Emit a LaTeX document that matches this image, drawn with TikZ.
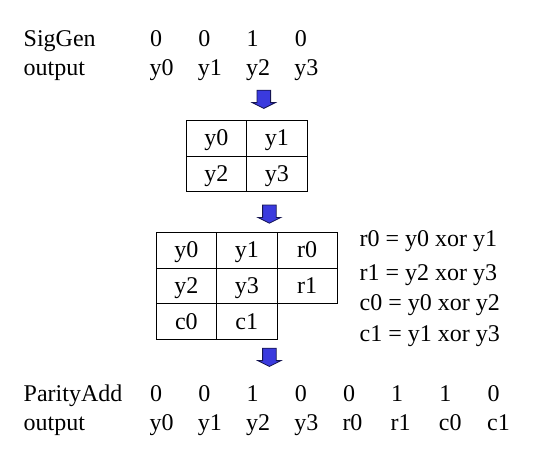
\documentclass[tikz,border=0pt]{standalone}
\usepackage{fontspec}
\setmainfont{Liberation Serif}
\begin{document}
\begin{tikzpicture}[x=1pt,y=-1pt,
  txt/.style={anchor=base west, inner sep=0pt, font=\fontsize{24}{28.8}\selectfont},
  cell/.style={draw, line width=0.9pt, minimum width=60.4pt, minimum height=35.6pt, inner sep=0pt,
    text height=16.2pt, text depth=1.2pt, font=\fontsize{24}{28.8}\selectfont},
  arrowfill/.style={fill={rgb,255:red,58;green,58;blue,222}, draw={rgb,255:red,20;green,20;blue,80}, line width=0.8pt},
  bigarrow/.pic={\path[arrowfill] (-6.8,0) -- (6.8,0) -- (6.8,12.4) -- (11.6,12.4) -- (0,18.2) -- (-11.6,12.4) -- (-6.8,12.4) -- cycle;}
]
\useasboundingbox (0,0) rectangle (540,450);

% top rows
\node[txt] (sig) at (23.5,46) {SigGen};
\node[txt] (sigout) at (23.5,75) {output};
\foreach \v [count=\i from 0] in {0,0,1,0} {
  \node[txt] (t\i) at ({150+48.2*\i},46) {\v};
}
\foreach \v [count=\i from 0] in {y0,y1,y2,y3} {
  \node[txt] (ty\i) at ({149.5+48.2*\i},75) {\v};
}

% arrow 1
\coordinate (a1) at (263.8,90.2);
\pic at (a1) {bigarrow};

% table 1
\node[cell] (p00) at (216.35,138.4) {y0};
\node[cell] (p01) at (276.75,138.4) {y1};
\node[cell] (p10) at (216.35,174.0) {y2};
\node[cell] (p11) at (276.75,174.0) {y3};

% arrow 2
\coordinate (a2) at (269.4,205);
\pic at (a2) {bigarrow};

% table 2
\node[cell] (q00) at (186.35,250.4) {y0};
\node[cell] (q01) at (246.75,250.4) {y1};
\node[cell] (q02) at (307.15,250.4) {r0};
\node[cell] (q10) at (186.35,286.0) {y2};
\node[cell] (q11) at (246.75,286.0) {y3};
\node[cell] (q12) at (307.15,286.0) {r1};
\node[cell] (q20) at (186.35,321.6) {c0};
\node[cell] (q21) at (246.75,321.6) {c1};

% equations
\node[txt] (e0) at (359.5,246) {r0 = y0 xor y1};
\node[txt] (e1) at (359.5,280.5) {r1 = y2 xor y3};
\node[txt] (e2) at (359.5,310.5) {c0 = y0 xor y2};
\node[txt] (e3) at (359.5,341) {c1 = y1 xor y3};

% arrow 3
\coordinate (a3) at (269.4,348.2);
\pic at (a3) {bigarrow};

% bottom rows
\node[txt] (par) at (23.5,401.5) {ParityAdd};
\node[txt] (parout) at (23.5,430.5) {output};
\foreach \v [count=\i from 0] in {0,0,1,0,0,1,1,0} {
  \node[txt] (b\i) at ({150+48.2*\i},401.5) {\v};
}
\foreach \v [count=\i from 0] in {y0,y1,y2,y3,r0,r1,c0,c1} {
  \node[txt] (by\i) at ({149.5+48.2*\i},430.5) {\v};
}
\end{tikzpicture}
\end{document}
